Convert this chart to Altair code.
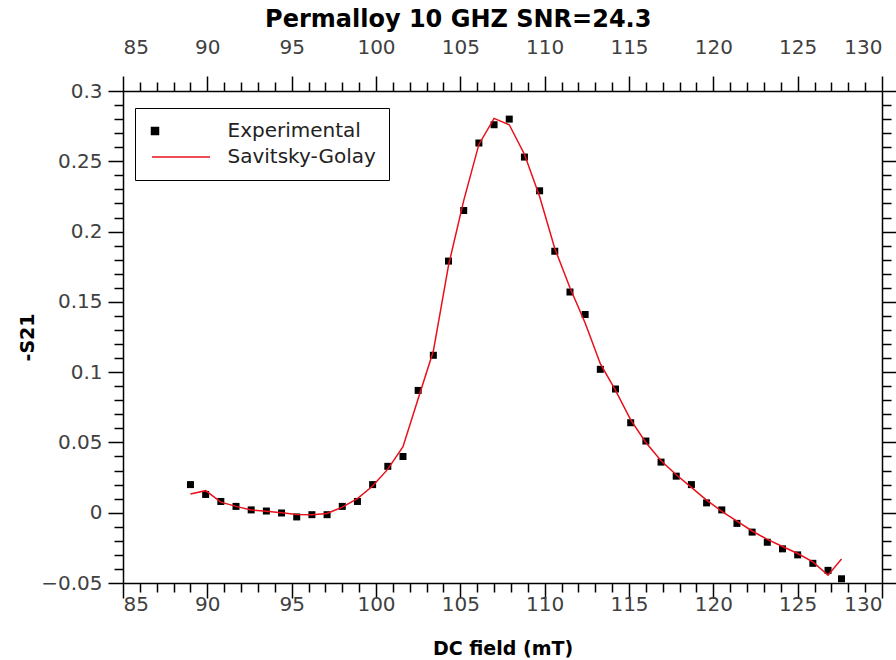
import altair as alt
import pandas as pd

# DC field (mT)
field = [89.0, 89.9, 90.8, 91.7, 92.6, 93.5, 94.4, 95.3, 96.2, 97.1,
         98.0, 98.9, 99.8, 100.7, 101.6, 102.5, 103.4, 104.3, 105.2, 106.1,
         107.0, 107.9, 108.8, 109.7, 110.6, 111.5, 112.4, 113.3, 114.2, 115.1,
         116.0, 116.9, 117.8, 118.7, 119.6, 120.5, 121.4, 122.3, 123.2, 124.1,
         125.0, 125.9, 126.8, 127.6]
# -S21 experimental
experimental = [0.020, 0.013, 0.008, 0.0045, 0.002, 0.0012, -0.0002, -0.003, -0.0014, -0.0014,
                0.0045, 0.008, 0.020, 0.033, 0.040, 0.087, 0.112, 0.179, 0.215, 0.263,
                0.276, 0.280, 0.253, 0.229, 0.186, 0.157, 0.141, 0.102, 0.088, 0.064,
                0.051, 0.036, 0.026, 0.020, 0.007, 0.002, -0.0076, -0.0138, -0.021, -0.0257,
                -0.030, -0.036, -0.041, -0.047]
# Savitsky-Golay smoothed
smoothed = [0.0133, 0.0157, 0.0075, 0.0045, 0.002, 0.001, 0.0, -0.0012, -0.0015, -0.0005,
            0.004, 0.010, 0.019, 0.031, 0.047, 0.081, 0.115, 0.176, 0.222, 0.262,
            0.2805, 0.276, 0.255, 0.225, 0.188, 0.160, 0.135, 0.106, 0.087, 0.066,
            0.050, 0.037, 0.027, 0.018, 0.009, 0.001, -0.006, -0.013, -0.019, -0.024,
            -0.029, -0.035, -0.0445, -0.033]
series_names = ["Experimental", "Savitsky-Golay"]
series_colors = ["black", "#e8101a"]

x_ticks = list(range(85, 131))
y_ticks = [round(-0.05 + 0.01 * k, 2) for k in range(36)]

pts = pd.DataFrame({"field": field, "s21": experimental, "series": series_names[0]})
sg = pd.DataFrame({"field": field, "s21": smoothed, "series": series_names[1]})

FONT = "DejaVu Sans"
LBL = "#404040"

xs = alt.Scale(domain=[85, 130], nice=False, zero=False)
ys = alt.Scale(domain=[-0.05, 0.3], nice=False, zero=False)
col = alt.Scale(domain=series_names, range=series_colors)

x_major = "abs(datum.value % 5) < 0.001"
y_major = "abs(round(datum.value * 100) % 5) === 0"

common = dict(domainColor="black", domainWidth=1.5, tickColor="black", tickWidth=1.5,
              labelFont=FONT, labelFontSize=20, labelColor=LBL, grid=False,
              titleFont=FONT, titleFontSize=19, titleFontWeight="bold", titleColor="black")

bottom_axis = alt.Axis(orient="bottom", values=x_ticks, title="DC field (mT)",
                       labelExpr=f"{x_major} ? datum.label : ''",
                       tickSize={"expr": f"{x_major} ? 15 : 9"},
                       labelPadding=-4, titlePadding=25, **common)
top_axis = alt.Axis(orient="top", values=x_ticks, title=None,
                    labelExpr=f"{x_major} ? datum.label : ''",
                    tickSize={"expr": f"{x_major} ? 15 : 9"},
                    labelPadding=19, **common)
left_axis = alt.Axis(orient="left", values=y_ticks, title="-S21", format="~g",
                     labelExpr=f"{y_major} ? datum.label : ''",
                     tickSize={"expr": f"{y_major} ? 15 : 9"},
                     labelPadding=6, titlePadding=3, **common)
right_axis = alt.Axis(orient="right", values=y_ticks, title=None, labels=False,
                      tickSize={"expr": f"{y_major} ? 15 : 9"}, **common)

legend = alt.Legend(
    title=None, orient="none", legendX=12, legendY=17,
    direction="vertical",
    strokeColor="black", fillColor="white", padding=13, cornerRadius=0,
    labelFont=FONT, labelFontSize=20, labelColor="#222222",
    labelExpr="datum.label + '\u00a0\u00a0'",
    symbolType={"expr": "datum.label === 'Experimental' ? 'square' : 'M-8.3,0H8.3'"},
    symbolSize=49,
    symbolStrokeWidth=1.5,
    symbolOffset={"expr": "datum.label === 'Experimental' ? -3 : 23"},
    labelOffset={"expr": "datum.label === 'Experimental' ? 62.5 : 36.5"},
    rowPadding=6,
)

points = alt.Chart(pts).mark_square(size=49, opacity=1, filled=True).encode(
    x=alt.X("field:Q", scale=xs, axis=bottom_axis),
    y=alt.Y("s21:Q", scale=ys, axis=left_axis),
    color=alt.Color("series:N", scale=col, legend=legend),
)
line = alt.Chart(sg).mark_line(strokeWidth=1.5).encode(
    x=alt.X("field:Q", scale=xs, axis=top_axis),
    y=alt.Y("s21:Q", scale=ys, axis=right_axis),
    color=alt.Color("series:N", scale=col, legend=legend),
)

chart = alt.layer(points, line).resolve_axis(x="independent", y="independent").properties(
    width=759, height=492,
    autosize=alt.AutoSizeParams(type="none"),
    padding={"left": 123, "top": 91, "right": 14, "bottom": 77},
    title=alt.Title("Permalloy 10 GHZ SNR=24.3", font=FONT, fontSize=24, fontWeight="bold",
                    color="black", anchor="middle", frame="bounds", offset=5),
    background="white",
).configure_view(stroke=None)

chart.save("out.html", embed_options={"renderer": "svg", "actions": False})
